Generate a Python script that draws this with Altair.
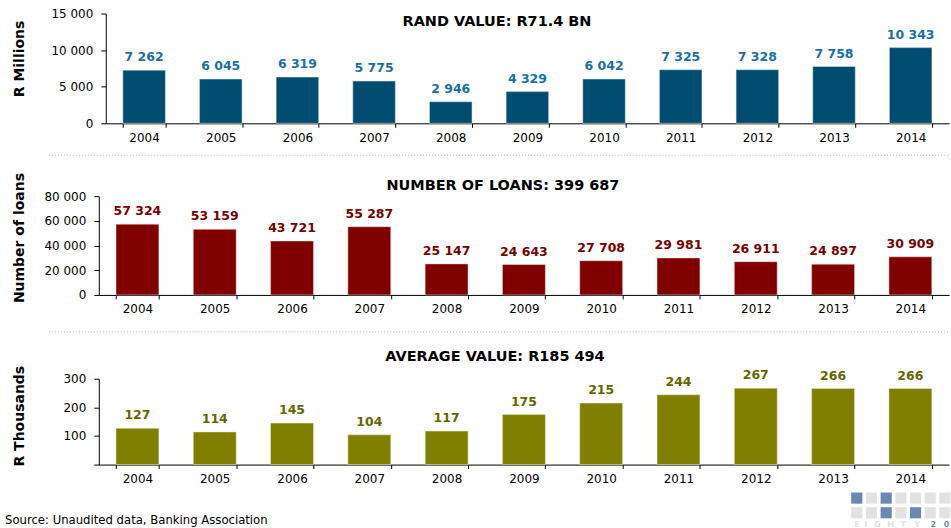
import altair as alt
import pandas as pd

years = ["2004", "2005", "2006", "2007", "2008", "2009", "2010", "2011", "2012", "2013", "2014"]
rand_value = [7262, 6045, 6319, 5775, 2946, 4329, 6042, 7325, 7328, 7758, 10343]
num_loans = [57324, 53159, 43721, 55287, 25147, 24643, 27708, 29981, 26911, 24897, 30909]
avg_value = [127, 114, 145, 104, 117, 175, 215, 244, 267, 266, 266]

titles = ["RAND VALUE: R71.4 BN", "NUMBER OF LOANS: 399 687", "AVERAGE VALUE: R185 494"]
y_titles = ["R Millions", "Number of loans", "R Thousands"]
source = "Source: Unaudited data, Banking Association"

# decorative logo (bottom right): 7 x 2 grid of squares, highlighted cells
logo_cols = [0, 1, 2, 3, 4, 5, 6, 0, 1, 2, 3, 4, 5, 6]
logo_rows = [0, 0, 0, 0, 0, 0, 0, 1, 1, 1, 1, 1, 1, 1]
logo_on = [1, 0, 1, 0, 0, 0, 0, 0, 0, 1, 0, 1, 0, 0]
logo_letters = ["E", "I", "G", "H", "T", "Y", "2", "0"]
logo_letter_pos = [0.2, 0.9, 1.55, 2.45, 3.35, 4.3, 5.4, 6.3]
logo_letter_dark = [0, 0, 0, 0, 0, 0, 1, 1]

FONT = "DejaVu Sans"
W = 852
SPACED = "replace(format(datum.value, ','), regexp(',', 'g'), ' ')"


def panel(values, domain, ticks, bar_color, label_color, title, ytitle, height,
          title_y, title_dx, title_y_shift, hide_zero, shared, own=(), x_shift=0):
    df = pd.DataFrame({"year": years, "value": values})
    label_expr = ("datum.value == 0 ? '' : " + SPACED) if hide_zero else SPACED
    yaxis_kw = {}
    if x_shift:
        yaxis_kw["offset"] = -x_shift
    base = alt.Chart(df).transform_calculate(lbl=SPACED).encode(
        x=alt.X("year:N", sort=years,
                scale=alt.Scale(paddingInner=0.445, paddingOuter=0.2225, range=[x_shift, W]),
                axis=alt.Axis(title=None, labelAngle=0, tickBand="extent",
                              labelFont=FONT, labelFontSize=12, labelColor="#000",
                              domainColor="#000", tickColor="#000", tickSize=4,
                              labelPadding=5, grid=False)),
        y=alt.Y("value:Q",
                scale=alt.Scale(domain=domain, nice=False, zero=True),
                axis=alt.Axis(values=ticks, grid=False, title=ytitle,
                              labelExpr=label_expr, labelOverlap=False,
                              labelFont=FONT, labelFontSize=12, labelColor="#000",
                              domainColor="#000", tickColor="#000", tickSize=5,
                              labelPadding=8,
                              titleFont=FONT, titleFontSize=14, titleFontWeight="bold",
                              titleColor="#000", titleX=-72 - x_shift,
                              titleY=height / 2 - title_y_shift, **yaxis_kw)),
    )
    bars = base.mark_bar(color=bar_color, stroke="#e8e8d8", strokeWidth=0.5)
    text = base.mark_text(baseline="bottom", dy=-6, font=FONT, fontWeight="bold",
                          fontSize=12.5, color=label_color).encode(text="lbl:N")
    ttl = alt.Chart(pd.DataFrame({"t": [title]})).mark_text(
        font=FONT, fontSize=14.5, fontWeight="bold", color="#000",
        align="center", baseline="middle").encode(
        x=alt.value(W / 2 + title_dx), y=alt.value(title_y), text="t:N")
    main = alt.layer(bars, text, ttl, *shared)
    if own:
        return alt.layer(main, *own).resolve_scale(x="independent", y="independent").properties(
            width=W, height=height)
    return main.properties(width=W, height=height)


one = pd.DataFrame({"a": [0]})


def separator(y):
    return alt.Chart(one).mark_rule(color="#b0b0b0", strokeDash=[1, 2], strokeWidth=1).encode(
        x=alt.value(-50), x2=alt.value(W), y=alt.value(y))


src = alt.Chart(pd.DataFrame({"t": [source]})).mark_text(
    align="left", baseline="middle", font=FONT, fontSize=11.7, color="#000").encode(
    x=alt.value(-94), y=alt.value(142), text="t:N")

logo_df = pd.DataFrame({"c": logo_cols, "r": logo_rows, "on": logo_on})
logo_df["c2"] = logo_df["c"] + 0.76
logo_df["r2"] = logo_df["r"] + 0.76
lx = alt.Scale(domain=[0, 7], range=[754, 857])
ly = alt.Scale(domain=[0, 2], range=[114, 143.4])
logo_rects = alt.Chart(logo_df).mark_rect().encode(
    x=alt.X("c:Q", scale=lx, axis=None), x2="c2:Q",
    y=alt.Y("r:Q", scale=ly, axis=None), y2="r2:Q",
    color=alt.Color("on:N", scale=alt.Scale(domain=[0, 1], range=["#e2e2e2", "#6b88b0"]), legend=None))
letters_df = pd.DataFrame({"ch": logo_letters, "p": logo_letter_pos, "d": logo_letter_dark,
                           "r": [1.93] * 8})
logo_text = alt.Chart(letters_df).mark_text(
    font=FONT, fontSize=8, fontWeight="bold", baseline="top", align="left").encode(
    x=alt.X("p:Q", scale=lx, axis=None),
    y=alt.Y("r:Q", scale=ly, axis=None),
    text="ch:N",
    color=alt.Color("d:N", scale=alt.Scale(domain=[0, 1], range=["#d0d0d0", "#222222"]), legend=None))

p1 = panel(rand_value, [0, 15000], [0, 5000, 10000, 15000], "#004D71", "#1B6FA3",
           titles[0], y_titles[0], 110, 8, -27, 10, False, [separator(142)], x_shift=7)
p2 = panel(num_loans, [0, 80000], [0, 20000, 40000, 60000, 80000], "#800000", "#7A0000",
           titles[1], y_titles[1], 99, -10, -21, 8, False, [separator(136)])
p3 = panel(avg_value, [0, 300], [0, 100, 200, 300], "#808000", "#666600",
           titles[2], y_titles[2], 86, -22, -29, 6, True, [src],
           own=[logo_rects, logo_text])

chart = alt.vconcat(p1, p2, p3, spacing=16).properties(
    padding={"left": 5, "top": 7, "right": 0, "bottom": 0}
).resolve_scale(color="independent").configure_view(strokeWidth=0)

chart.save("out.html", embed_options={"renderer": "svg", "actions": False})
